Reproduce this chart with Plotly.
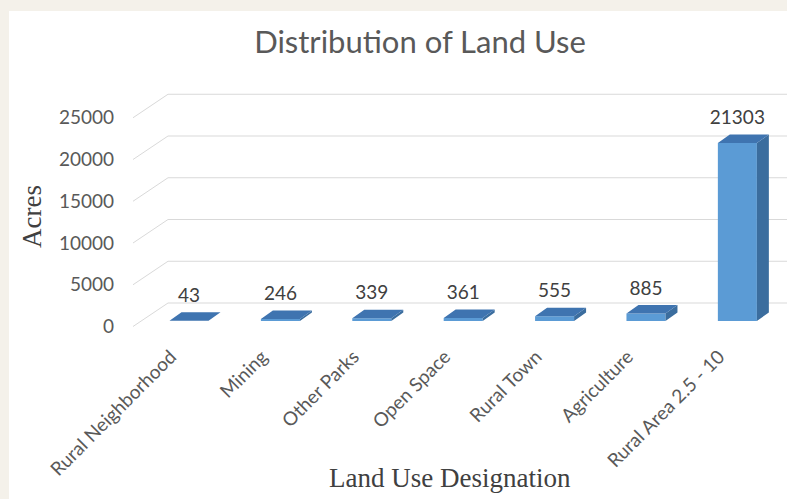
import plotly.graph_objects as go

# ---- data ----
categories = ["Rural Neighborhood", "Mining", "Other Parks", "Open Space",
              "Rural Town", "Agriculture", "Rural Area 2.5 - 10"]
acres = [43, 246, 339, 361, 555, 885, 21303]
y_ticks = [0, 5000, 10000, 15000, 20000, 25000]

# ---- geometry (pseudo-3D, in axis units) ----
X_LEFT, X_RIGHT = -0.613, 6.543
Y_BOTTOM, Y_TOP = -539, 28922
BACK_DX, BACK_DY = 0.383, 2814      # wall offset (front -> back)
BAR_BASE = 659                      # bar front plane above front floor
BAR_W = 0.427
DEPTH_DX, DEPTH_DY = 0.131, 1018    # bar depth
LABEL_GAP = 700                     # data label lift
TICK_SHIFT = 0.2                    # rotated tick label alignment

FRONT = "#5b9bd5"
SIDE = "#3b6d9e"
TOP = "#3f74b0"
GRID = "#d9d9d9"
TXT = "#595959"

xs = list(range(len(categories)))

# gridlines (diagonal + back wall)
gx, gy = [], []
for v in y_ticks:
    gx += [X_LEFT, X_LEFT + BACK_DX, X_RIGHT, None]
    gy += [v, v + BACK_DY, v + BACK_DY, None]

fx, fy, sx, sy, tx, ty = [], [], [], [], [], []
for x, v in zip(xs, acres):
    l, r = x - BAR_W / 2, x + BAR_W / 2
    b, t = BAR_BASE, BAR_BASE + v
    fx += [l, r, r, l, l, None]
    fy += [b, b, t, t, b, None]
    sx += [r, r + DEPTH_DX, r + DEPTH_DX, r, r, None]
    sy += [b, b + DEPTH_DY, t + DEPTH_DY, t, b, None]
    tx += [l, r, r + DEPTH_DX, l + DEPTH_DX, l, None]
    ty += [t, t, t + DEPTH_DY, t + DEPTH_DY, t, None]

fig = go.Figure()
fig.add_trace(go.Scatter(x=gx, y=gy, mode="lines", line=dict(color=GRID, width=1),
                         hoverinfo="skip", showlegend=False))
fig.add_trace(go.Scatter(x=fx, y=fy, mode="lines", fill="toself", fillcolor=FRONT,
                         line=dict(width=0, color=FRONT), hoverinfo="skip", showlegend=False))
fig.add_trace(go.Scatter(x=sx, y=sy, mode="lines", fill="toself", fillcolor=SIDE,
                         line=dict(width=0, color=SIDE), hoverinfo="skip", showlegend=False))
fig.add_trace(go.Scatter(x=tx, y=ty, mode="lines", fill="toself", fillcolor=TOP,
                         line=dict(width=0, color=TOP), hoverinfo="skip", showlegend=False))
fig.add_trace(go.Scatter(x=xs, y=[BAR_BASE + v + DEPTH_DY + LABEL_GAP for v in acres],
                         mode="text", text=[str(v) for v in acres],
                         textposition="top center",
                         textfont=dict(family="Lato", size=19, color="#404040"),
                         cliponaxis=False, hoverinfo="skip", showlegend=False))

W, H = 787, 499
L, R, T, B = 133, 0, 85, 168
pw, ph = W - L - R, H - T - B

fig.update_layout(
    width=W, height=H,
    margin=dict(l=L, r=R, t=T, b=B),
    paper_bgcolor="#f4f1ea",
    plot_bgcolor="rgba(0,0,0,0)",
    title=dict(text="Distribution of Land Use", x=420 / W, xanchor="center",
               y=1 - 42 / H, yanchor="middle",
               font=dict(family="Lato", size=31, color=TXT)),
    xaxis=dict(range=[X_LEFT, X_RIGHT], tickvals=[x - TICK_SHIFT for x in xs],
               ticktext=categories,
               tickangle=-45, showgrid=False, zeroline=False, showline=False,
               ticks="", ticklabelstandoff=10,
               tickfont=dict(family="Lato", size=19, color=TXT)),
    yaxis=dict(range=[Y_BOTTOM, Y_TOP], tickvals=y_ticks, tickformat="d",
               showgrid=False, zeroline=False, showline=False, ticks="",
               ticklabelstandoff=18,
               tickfont=dict(family="Lato", size=19, color=TXT)),
    shapes=[dict(type="rect", xref="paper", yref="paper", layer="below",
                 x0=(9 - L) / pw, x1=1.05, y0=-2.0,
                 y1=(H - B - 11) / ph, fillcolor="white", line=dict(width=0))],
    annotations=[
        dict(text="Acres", xref="paper", yref="paper", x=(32 - L) / pw,
             y=(H - B - 217) / ph, textangle=-90, showarrow=False,
             xanchor="center", yanchor="middle",
             font=dict(family="Liberation Serif", size=27, color="#404040")),
        dict(text="Land Use Designation", xref="paper", yref="paper",
             x=(450 - L) / pw, y=(H - B - 478) / ph, showarrow=False,
             xanchor="center", yanchor="middle",
             font=dict(family="Liberation Serif", size=27, color="#404040")),
    ],
)

fig.write_html("out.html")
